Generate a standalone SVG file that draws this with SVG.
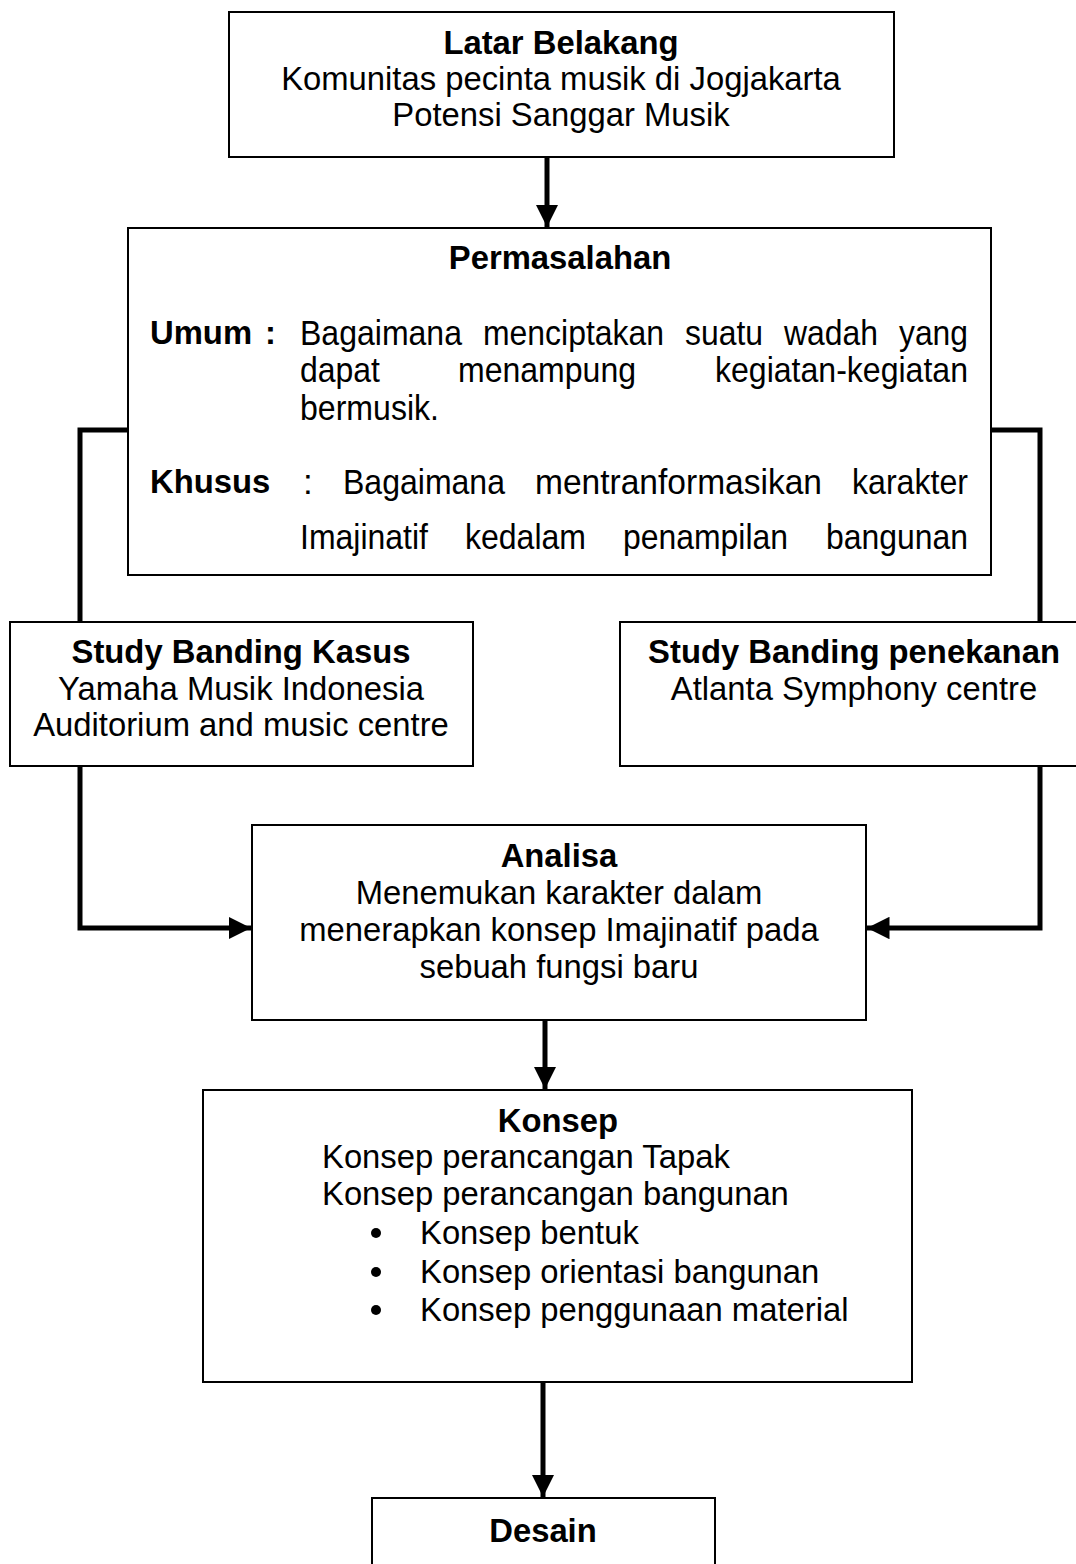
<svg xmlns="http://www.w3.org/2000/svg" width="1076" height="1564" viewBox="0 0 1076 1564">
<defs>
<style>
.box{fill:#fff;stroke:#000;stroke-width:2}
text{font-family:"Liberation Sans",Arial,sans-serif;font-size:32.8px;fill:#000}
.b{font-weight:bold}
.c{text-anchor:middle}
.n{font-size:35px}
.con{fill:none;stroke:#000;stroke-width:5}
</style>
<marker id="ah" viewBox="0 0 10 10" refX="10" refY="5" markerWidth="4.5" markerHeight="4.5" orient="auto" markerUnits="strokeWidth">
<path d="M0,0 L10,5 L0,10 Z" fill="#000"/>
</marker>
</defs>
<rect width="1076" height="1564" fill="#fff"/>
<g id="connectors">
<line class="con" x1="547" y1="157" x2="547" y2="227" marker-end="url(#ah)"/>
<polyline class="con" points="128,430 80,430 80,622"/>
<polyline class="con" points="991,430 1040,430 1040,622"/>
<polyline class="con" points="80,766 80,928 251,928" marker-end="url(#ah)"/>
<polyline class="con" points="1040,766 1040,928 867,928" marker-end="url(#ah)"/>
<line class="con" x1="545" y1="1020" x2="545" y2="1089" marker-end="url(#ah)"/>
<line class="con" x1="543" y1="1382" x2="543" y2="1497" marker-end="url(#ah)"/>
</g>
<g id="latar">
<rect class="box" x="229" y="12" width="665" height="145"/>
<text class="b c" x="561" y="54">Latar Belakang</text>
<text class="c" x="561" y="90">Komunitas pecinta musik di Jogjakarta</text>
<text class="c" x="561" y="126">Potensi Sanggar Musik</text>
</g>
<g id="permasalahan">
<rect class="box" x="128" y="228" width="863" height="347"/>
<text class="b c" x="560" y="269">Permasalahan</text>
<text class="b" x="150" y="344">Umum</text>
<text class="b" x="265" y="344">:</text>
<text class="n" x="300" y="345" textLength="162" lengthAdjust="spacingAndGlyphs">Bagaimana</text>
<text class="n" x="483" y="345" textLength="181" lengthAdjust="spacingAndGlyphs">menciptakan</text>
<text class="n" x="685" y="345" textLength="78" lengthAdjust="spacingAndGlyphs">suatu</text>
<text class="n" x="784" y="345" textLength="94" lengthAdjust="spacingAndGlyphs">wadah</text>
<text class="n" x="899" y="345" textLength="69" lengthAdjust="spacingAndGlyphs">yang</text>
<text class="n" x="300" y="382" textLength="80" lengthAdjust="spacingAndGlyphs">dapat</text>
<text class="n" x="458" y="382" textLength="178" lengthAdjust="spacingAndGlyphs">menampung</text>
<text class="n" x="715" y="382" textLength="253" lengthAdjust="spacingAndGlyphs">kegiatan-kegiatan</text>
<text class="n" x="300" y="420" textLength="139" lengthAdjust="spacingAndGlyphs">bermusik.</text>
<text class="b" x="150" y="493">Khusus</text>
<text class="n" x="303" y="494">:</text>
<text class="n" x="343" y="494" textLength="162" lengthAdjust="spacingAndGlyphs">Bagaimana</text>
<text class="n" x="535" y="494" textLength="287" lengthAdjust="spacingAndGlyphs">mentranformasikan</text>
<text class="n" x="852" y="494" textLength="116" lengthAdjust="spacingAndGlyphs">karakter</text>
<text class="n" x="300" y="549" textLength="128" lengthAdjust="spacingAndGlyphs">Imajinatif</text>
<text class="n" x="465" y="549" textLength="121" lengthAdjust="spacingAndGlyphs">kedalam</text>
<text class="n" x="623" y="549" textLength="165" lengthAdjust="spacingAndGlyphs">penampilan</text>
<text class="n" x="826" y="549" textLength="142" lengthAdjust="spacingAndGlyphs">bangunan</text>
</g>
<g id="kasus">
<rect class="box" x="10" y="622" width="463" height="144"/>
<text class="b c" x="241" y="663">Study Banding Kasus</text>
<text class="c" x="241" y="700">Yamaha Musik Indonesia</text>
<text class="c" x="241" y="736">Auditorium and music centre</text>
</g>
<g id="penekanan">
<rect class="box" x="620" y="622" width="470" height="144"/>
<text class="b c" x="854" y="663">Study Banding penekanan</text>
<text class="c" x="854" y="700">Atlanta Symphony centre</text>
</g>
<g id="analisa">
<rect class="box" x="252" y="825" width="614" height="195"/>
<text class="b c" x="559" y="867">Analisa</text>
<text class="c" x="559" y="904">Menemukan karakter dalam</text>
<text class="c" x="559" y="941">menerapkan konsep Imajinatif pada</text>
<text class="c" x="559" y="978">sebuah fungsi baru</text>
</g>
<g id="konsep">
<rect class="box" x="203" y="1090" width="709" height="292"/>
<text class="b c" x="558" y="1132">Konsep</text>
<text x="322" y="1168">Konsep perancangan Tapak</text>
<text x="322" y="1205">Konsep perancangan bangunan</text>
<circle cx="376" cy="1233" r="5"/>
<circle cx="376" cy="1272" r="5"/>
<circle cx="376" cy="1310" r="5"/>
<text x="420" y="1244">Konsep bentuk</text>
<text x="420" y="1283">Konsep orientasi bangunan</text>
<text x="420" y="1321">Konsep penggunaan material</text>
</g>
<g id="desain">
<rect class="box" x="372" y="1498" width="343" height="80"/>
<text class="b c" x="543" y="1542">Desain</text>
</g>
</svg>
